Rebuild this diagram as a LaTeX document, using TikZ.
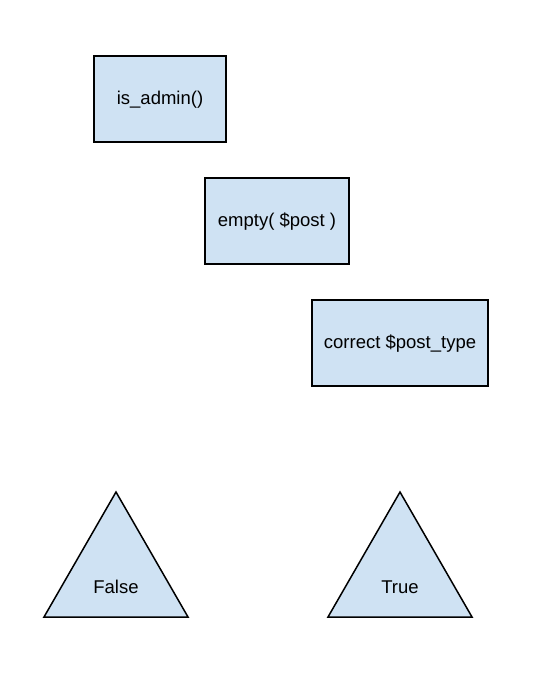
\documentclass[tikz,border=0pt]{standalone}
\usepackage{fontspec}
\setmainfont{Liberation Sans}
\definecolor{boxfill}{HTML}{CFE2F3}
\begin{document}
\begin{tikzpicture}[x=1pt,y=-1pt,
  box/.style={draw=black,line width=1.5pt,fill=boxfill},
  lbl/.style={font=\fontsize{18.5}{22}\selectfont,inner sep=0pt}]
\useasboundingbox[fill=white] (0,0) rectangle (533,674);
% boxes
\draw[box] (94,56) rectangle (226,142);
\node[lbl] (admin) at (160,100) {is\_admin()};
\draw[box] (205,178) rectangle (349,264);
\node[lbl] (empty) at (277,222) {empty( \$post )};
\draw[box] (312,300) rectangle (488,386);
\node[lbl] (ptype) at (400,344) {correct \$post\_type};
% triangles
\draw[box,line join=miter] (116,492) -- (188,617) -- (44,617) -- cycle;
\node[lbl] (false) at (116,587) {False};
\draw[box,line join=miter] (400,492) -- (472,617) -- (328,617) -- cycle;
\node[lbl] (true) at (400,587) {True};
\end{tikzpicture}
\end{document}
